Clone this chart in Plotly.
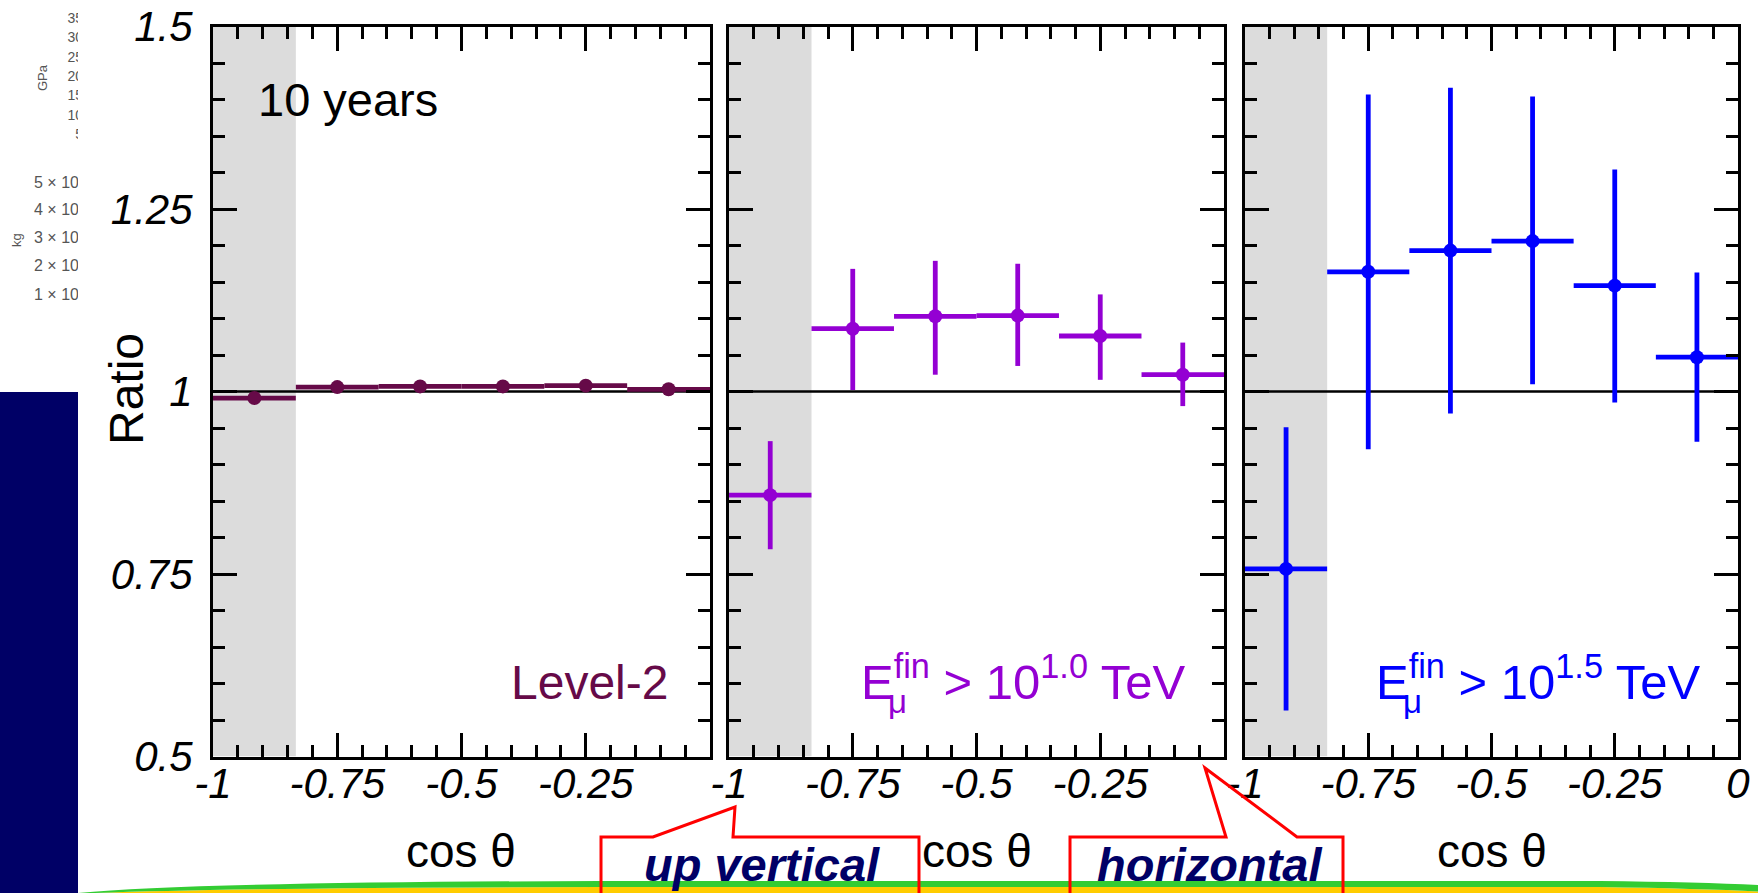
import plotly.graph_objects as go

# ---------------- data ----------------
bin_centers = [-0.9167, -0.75, -0.5833, -0.4167, -0.25, -0.0833]
bin_halfwidth = [0.0833, 0.0833, 0.0833, 0.0833, 0.0833, 0.0833]

level2_ratio = [0.991, 1.006, 1.007, 1.007, 1.008, 1.003]
level2_err_up = [0.002, 0.002, 0.002, 0.002, 0.002, 0.002]
level2_err_down = [0.002, 0.002, 0.002, 0.002, 0.002, 0.002]

e10_ratio = [0.858, 1.086, 1.103, 1.104, 1.076, 1.023]
e10_err_up = [0.074, 0.082, 0.076, 0.071, 0.057, 0.044]
e10_err_down = [0.074, 0.084, 0.080, 0.069, 0.060, 0.043]

e15_ratio = [0.757, 1.164, 1.193, 1.206, 1.145, 1.047]
e15_err_up = [0.194, 0.243, 0.223, 0.198, 0.159, 0.116]
e15_err_down = [0.194, 0.243, 0.223, 0.196, 0.160, 0.116]

excluded_region = [-1.0, -0.8333]
reference_ratio = 1.0

y_tickvals = [0.5, 0.75, 1, 1.25, 1.5]
y_ticktext = ["0.5", "0.75", "1", "1.25", "1.5"]
x_tickvals_inner = [-1, -0.75, -0.5, -0.25]
x_ticktext_inner = ["-1", "-0.75", "-0.5", "-0.25"]
x_tickvals_last = [-1, -0.75, -0.5, -0.25, 0]
x_ticktext_last = ["-1", "-0.75", "-0.5", "-0.25", "0"]

panel_labels = ["Level-2", "E<sup>fin</sup> > 10<sup>1.0</sup> TeV", "E<sup>fin</sup> > 10<sup>1.5</sup> TeV"]
panel_colors = ["#660A48", "#9400D3", "#0000FF"]

# fragments of a neighbouring (cut-off) figure on the slide
gpa_labels = ["35", "30", "25", "20", "15", "10", "5"]
kg_labels = ["5 × 10", "4 × 10", "3 × 10", "2 × 10", "1 × 10"]

# ---------------- geometry helpers ----------------
W, H = 1758, 893
FONT = "Liberation Sans, Arial, sans-serif"


def px(x):
    return x / W


def py(y):
    return 1 - y / H


def path(cmds):
    out = []
    for c in cmds:
        if isinstance(c, str):
            out.append(c)
        else:
            out.append(f"{px(c[0]):.5f},{py(c[1]):.5f}")
    return " ".join(out)


panels_px = [(213, 710), (729, 1224), (1245, 1738)]
y_dom = [py(756.5), py(26.5)]

fig = go.Figure()

series = [
    (level2_ratio, level2_err_up, level2_err_down),
    (e10_ratio, e10_err_up, e10_err_down),
    (e15_ratio, e15_err_up, e15_err_down),
]
for i, (vals, up, dn) in enumerate(series):
    sfx = "" if i == 0 else str(i + 1)
    fig.add_trace(go.Scatter(
        x=bin_centers, y=vals, mode="markers",
        xaxis="x" + sfx, yaxis="y" + sfx,
        marker=dict(color=panel_colors[i], size=14, line=dict(width=0)),
        error_x=dict(type="data", array=bin_halfwidth, symmetric=True,
                     color=panel_colors[i], thickness=4.8, width=0),
        error_y=dict(type="data", array=up, arrayminus=dn, symmetric=False,
                     color=panel_colors[i], thickness=4.8, width=0),
        showlegend=False, hoverinfo="skip",
    ))

# cut-off fragments (clipped to the left strip)
fig.add_trace(go.Scatter(
    x=[83] * len(gpa_labels), y=[19, 38, 58, 77, 96, 116, 135],
    text=gpa_labels, mode="text", textposition="middle left",
    textfont=dict(family=FONT, size=14, color="#555555"),
    xaxis="x4", yaxis="y4", cliponaxis=True, showlegend=False, hoverinfo="skip"))
fig.add_trace(go.Scatter(
    x=[34] * len(kg_labels), y=[184, 211, 239, 267, 296],
    text=kg_labels, mode="text", textposition="middle right",
    textfont=dict(family=FONT, size=16, color="#555555"),
    xaxis="x4", yaxis="y4", cliponaxis=True, showlegend=False, hoverinfo="skip"))

axis_common = dict(
    showline=True, linecolor="black", linewidth=3, mirror="ticks",
    ticks="inside", ticklen=24, tickwidth=2.5, tickcolor="black",
    showgrid=False, zeroline=False, automargin=False,
    tickfont=dict(family=FONT, size=42, color="black", style="italic"),
)

layout = dict(
    width=W, height=H, autosize=False,
    margin=dict(l=0, r=0, t=0, b=0, pad=0, autoexpand=False),
    paper_bgcolor="white", plot_bgcolor="rgba(0,0,0,0)",
    showlegend=False,
)
for i, (x0, x1) in enumerate(panels_px):
    sfx = "" if i == 0 else str(i + 1)
    layout["xaxis" + sfx] = dict(
        axis_common, domain=[px(x0), px(x1)], range=[-1, 0],
        anchor="y" + sfx,
        tickvals=x_tickvals_last if i == 2 else x_tickvals_inner,
        ticktext=x_ticktext_last if i == 2 else x_ticktext_inner,
        ticklabelstandoff=-12,
        minor=dict(tick0=-1, dtick=0.05, ticks="inside", ticklen=12,
                   tickwidth=2.5, tickcolor="black", showgrid=False),
    )
    layout["yaxis" + sfx] = dict(
        axis_common, domain=y_dom, range=[0.5, 1.5],
        anchor="x" + sfx, tickvals=y_tickvals, ticktext=y_ticktext,
        showticklabels=(i == 0), ticklabelstandoff=9,
        minor=dict(tick0=0.5, dtick=0.05, ticks="inside", ticklen=12,
                   tickwidth=2.5, tickcolor="black", showgrid=False),
    )
layout["xaxis4"] = dict(domain=[0, px(78)], range=[0, 78], visible=False, anchor="y4")
layout["yaxis4"] = dict(domain=[0, 1], range=[H, 0], visible=False, anchor="x4")

shapes = []
# navy side bar of the slide
shapes.append(dict(type="rect", xref="paper", yref="paper",
                   x0=0, x1=px(78), y0=py(893), y1=py(392),
                   fillcolor="#000066", line=dict(width=0), layer="above"))
for i in range(3):
    sfx = "" if i == 0 else str(i + 1)
    shapes.append(dict(type="rect", xref="x" + sfx, yref="y" + sfx,
                       x0=excluded_region[0], x1=excluded_region[1], y0=0.5, y1=1.5,
                       fillcolor="#DCDCDC", line=dict(width=0), layer="below"))
    shapes.append(dict(type="line", xref="x" + sfx, yref="y" + sfx,
                       x0=-1, x1=0, y0=reference_ratio, y1=reference_ratio,
                       line=dict(color="black", width=2.5), layer="below"))

# bottom swoosh of the slide template
shapes.append(dict(type="path", xref="paper", yref="paper", layer="above",
                   path=path(["M", (95, 893), "Q", (250, 887.5), (600, 887), "L", (1600, 887),
                              "Q", (1700, 888.5), (1758, 891.5), "L", (1758, 893), "Z"]),
                   fillcolor="#FFCC00", line=dict(width=0)))
shapes.append(dict(type="path", xref="paper", yref="paper", layer="above",
                   path=path(["M", (78, 893), "Q", (200, 882), (600, 881), "L", (1600, 881),
                              "Q", (1700, 882), (1758, 885), "L", (1758, 891.5),
                              "Q", (1700, 888.5), (1600, 887), "L", (600, 887),
                              "Q", (250, 887.5), (95, 893), "Z"]),
                   fillcolor="#33CC33", line=dict(width=0)))
# callouts
shapes.append(dict(type="path", xref="paper", yref="paper", layer="above",
                   path=path(["M", (601, 900), "L", (601, 837), "L", (653, 837), "L", (735, 807),
                              "L", (733, 837), "L", (919, 837), "L", (919, 900)]),
                   line=dict(color="#FF0000", width=3)))
shapes.append(dict(type="path", xref="paper", yref="paper", layer="above",
                   path=path(["M", (1070, 900), "L", (1070, 837), "L", (1226, 837), "L", (1205, 768),
                              "L", (1297, 837), "L", (1343, 837), "L", (1343, 900)]),
                   line=dict(color="#FF0000", width=3)))
layout["shapes"] = shapes


def ann(text, x, y, size, color="black", xanchor="center", yanchor="bottom", **kw):
    f = dict(family=FONT, size=size, color=color)
    return dict(text=text, x=px(x), y=py(y), xref="paper", yref="paper",
                showarrow=False, font=f, xanchor=xanchor, yanchor=yanchor,
                borderpad=0, **kw)


anns = []
anns.append(ann("10 years", 257, 127, 47, xanchor="left"))
anns.append(ann(panel_labels[0], 669, 710, 48, panel_colors[0], xanchor="right"))
anns.append(ann(panel_labels[1], 1186, 710, 49, panel_colors[1], xanchor="right"))
anns.append(ann("μ", 887, 721, 33, panel_colors[1], xanchor="left"))
anns.append(ann(panel_labels[2], 1701, 710, 49, panel_colors[2], xanchor="right"))
anns.append(ann("μ", 1402, 721, 33, panel_colors[2], xanchor="left"))
anns.append(ann("Ratio", 126, 389, 48, yanchor="middle", textangle=-90))
for (x0, x1) in panels_px:
    anns.append(ann("cos θ", (x0 + x1) / 2, 878, 46))
anns.append(ann("<b><i>up vertical</i></b>", 762, 892, 47, "#000066"))
anns.append(ann("<b><i>horizontal</i></b>", 1209, 892, 47, "#000066"))
anns.append(ann("GPa", 42, 78, 13, "#555555", yanchor="middle", textangle=-90))
anns.append(ann("kg", 16, 240, 13, "#555555", yanchor="middle", textangle=-90))
layout["annotations"] = anns

fig.update_layout(**layout)

fig.write_html(
    "out.html",
    config={"displayModeBar": False, "responsive": False},
    post_script="document.body.style.margin='0';document.body.style.overflow='hidden';",
)
